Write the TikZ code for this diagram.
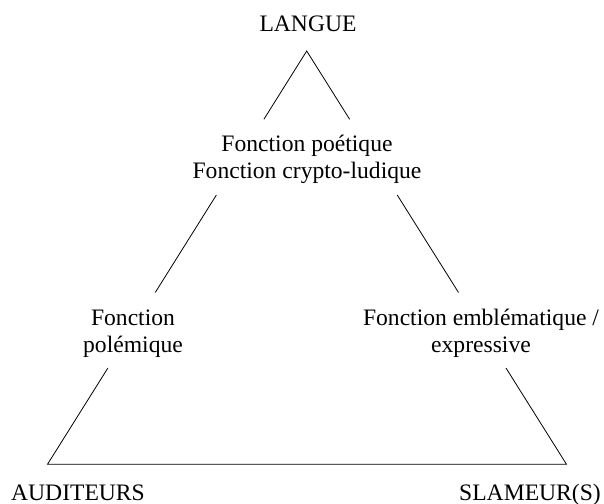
\documentclass[tikz,border=0pt]{standalone}
\usepackage{fontspec}
\setmainfont{Liberation Serif}
\usetikzlibrary{calc}
\begin{document}
\begin{tikzpicture}[x=1bp,y=-1bp,
  lbl/.style={font=\fontsize{23.6bp}{27bp}\selectfont, inner sep=0pt, align=center, anchor=base},
  seg/.style={line width=0.8bp, draw=black}]
\useasboundingbox (0,0) rectangle (604,504);
% text nodes (anchor base = baseline of the last line)
\node[lbl] (langue) at (308,31.5) {LANGUE};
\node[lbl] (poetique) at (307,178.3) {Fonction poétique\\Fonction crypto-ludique};
\node[lbl] (polemique) at (133,352.5) {Fonction\\polémique};
\node[lbl] (emblem) at (481,352.5) {Fonction emblématique /\\expressive};
\node[lbl] (auditeurs) at (78,500) {AUDITEURS};
\node[lbl] (slameurs) at (530,500) {SLAMEUR(S)};
% triangle geometry
\coordinate (apex) at (306.7,51);
\coordinate (bl) at (47.5,464.3);
\coordinate (br) at (566.5,464.3);
\coordinate (l1) at ($(apex)!0.1653!(bl)$);
\coordinate (r1) at ($(apex)!0.1653!(br)$);
\coordinate (l2) at ($(apex)!0.3484!(bl)$);
\coordinate (r2) at ($(apex)!0.3484!(br)$);
\coordinate (l3) at ($(apex)!0.5843!(bl)$);
\coordinate (r3) at ($(apex)!0.5843!(br)$);
\coordinate (l4) at ($(apex)!0.767!(bl)$);
\coordinate (r4) at ($(apex)!0.767!(br)$);
% connectors
\draw[seg] (l1) -- (apex) -- (r1);
\draw[seg] (l2) -- (l3);
\draw[seg] (r2) -- (r3);
\draw[seg] (l4) -- (bl) -- (br) -- (r4);
\end{tikzpicture}
\end{document}
